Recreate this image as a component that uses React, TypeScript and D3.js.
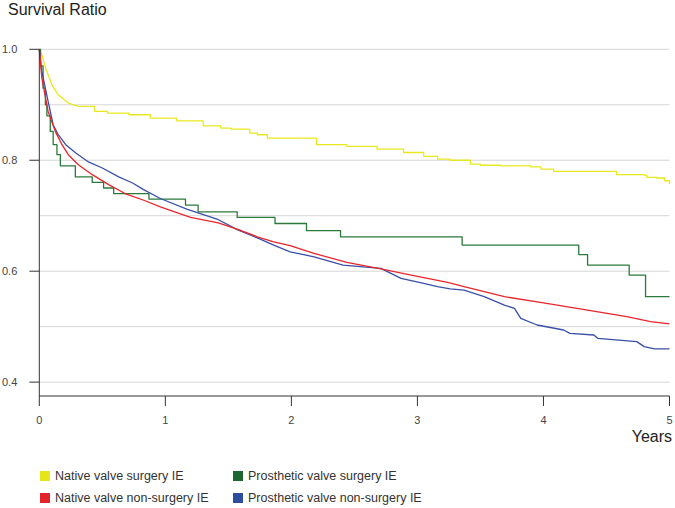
import React from "react";
import * as d3 from "d3";

const W = 675;
const H = 508;

// Native valve surgery IE
const nsT = [0, 0.02, 0.05, 0.10, 0.15, 0.23, 0.31, 0.44, 0.54, 0.71, 0.88, 1.09, 1.30, 1.44, 1.52, 1.67, 1.73, 1.81, 2.05, 2.20, 2.44, 2.68, 2.89, 3.05, 3.16, 3.26, 3.42, 3.50, 3.66, 3.90, 3.98, 4.08, 4.50, 4.58, 4.80, 4.82, 4.90, 4.96, 5.0];
const nsV = [1.0, 0.99, 0.966, 0.936, 0.918, 0.903, 0.897, 0.888, 0.885, 0.882, 0.876, 0.871, 0.862, 0.858, 0.856, 0.849, 0.846, 0.84, 0.84, 0.828, 0.825, 0.82, 0.814, 0.807, 0.802, 0.80, 0.793, 0.791, 0.79, 0.788, 0.784, 0.78, 0.78, 0.774, 0.773, 0.769, 0.768, 0.763, 0.757];

// Native valve non-surgery IE
const nnT = [0, 0.02, 0.07, 0.127, 0.18, 0.23, 0.31, 0.42, 0.55, 0.68, 0.84, 0.96, 1.2, 1.42, 1.58, 1.73, 1.86, 1.99, 2.18, 2.44, 2.71, 2.97, 3.24, 3.37, 3.69, 4.0, 4.35, 4.66, 4.85, 5.0];
const nnV = [1.0, 0.948, 0.888, 0.852, 0.828, 0.81, 0.792, 0.774, 0.756, 0.74, 0.727, 0.716, 0.697, 0.687, 0.675, 0.662, 0.653, 0.646, 0.632, 0.616, 0.604, 0.592, 0.58, 0.572, 0.554, 0.543, 0.53, 0.518, 0.509, 0.505];

// Prosthetic valve surgery IE
const psT = [0, 0.01, 0.03, 0.048, 0.06, 0.087, 0.11, 0.14, 0.167, 0.286, 0.42, 0.51, 0.59, 0.87, 1.16, 1.26, 1.57, 1.87, 2.12, 2.39, 3.355, 4.28, 4.35, 4.68, 4.81, 5.0];
const psV = [1.0, 0.97, 0.93, 0.90, 0.88, 0.852, 0.828, 0.81, 0.79, 0.77, 0.76, 0.75, 0.74, 0.73, 0.719, 0.707, 0.697, 0.686, 0.673, 0.662, 0.647, 0.63, 0.611, 0.593, 0.554, 0.554];

// Prosthetic valve non-surgery IE
const pnT = [0, 0.02, 0.07, 0.11, 0.15, 0.21, 0.29, 0.39, 0.50, 0.63, 0.74, 0.82, 0.96, 1.17, 1.41, 1.57, 1.73, 1.86, 1.99, 2.18, 2.41, 2.71, 2.87, 3.05, 3.16, 3.26, 3.37, 3.53, 3.69, 3.77, 3.82, 3.95, 4.16, 4.21, 4.40, 4.43, 4.74, 4.80, 4.88, 5.0];
const pnV = [1.0, 0.96, 0.906, 0.864, 0.846, 0.828, 0.813, 0.797, 0.786, 0.77, 0.759, 0.748, 0.731, 0.712, 0.694, 0.675, 0.66, 0.647, 0.635, 0.626, 0.611, 0.605, 0.587, 0.578, 0.572, 0.568, 0.566, 0.554, 0.539, 0.533, 0.515, 0.503, 0.494, 0.488, 0.485, 0.479, 0.473, 0.464, 0.46, 0.46];

const xTicks = [0, 1, 2, 3, 4, 5];
const yTickLabels = ["1.0", "0.8", "0.6", "0.4"];
const yTickValues = [1.0, 0.8, 0.6, 0.4];
const gridValues = [1.0, 0.9, 0.8, 0.7, 0.6, 0.5, 0.4];

const seriesNames = [
  "Native valve surgery IE",
  "Prosthetic valve surgery IE",
  "Native valve non-surgery IE",
  "Prosthetic valve non-surgery IE",
];

const FONT = "'Liberation Sans', Arial, Helvetica, sans-serif";

export default function App() {
  const x = d3.scaleLinear().domain([0, 5]).range([39.3, 669.5]);
  const y = d3.scaleLinear().domain([0.375, 1.0]).range([396, 49.3]);

  const mk = (ts: number[], vs: number[]) => ts.map((t, i) => [t, vs[i]] as [number, number]);
  const stepLine = d3
    .line<[number, number]>()
    .x((d) => x(d[0]))
    .y((d) => y(d[1]))
    .curve(d3.curveStepAfter);
  const linLine = d3
    .line<[number, number]>()
    .x((d) => x(d[0]))
    .y((d) => y(d[1]))
    .curve(d3.curveLinear);
  // linear through the dense early drop, stairs afterwards
  const hybrid = (pts: [number, number][], tSplit: number) => {
    const k = pts.findIndex((p) => p[0] >= tSplit);
    return (linLine(pts.slice(0, k + 1)) || "") + (stepLine(pts.slice(k)) || "");
  };

  const series = [
    { name: seriesNames[0], d: hybrid(mk(nsT, nsV), 0.31), color: "#e8e820", sw: "#e5e51a" },
    { name: seriesNames[1], d: stepLine(mk(psT, psV)) || "", color: "#2b7a3b", sw: "#1c6830" },
    { name: seriesNames[2], d: linLine(mk(nnT, nnV)) || "", color: "#e8262b", sw: "#e3232b" },
    { name: seriesNames[3], d: linLine(mk(pnT, pnV)) || "", color: "#3a50a8", sw: "#2e4c9e" },
  ];
  const drawOrder = [0, 1, 3, 2];

  const legendPos = [
    { sx: 40, tx: 55, sy: 471, ty: 480 },
    { sx: 233, tx: 248, sy: 471, ty: 480 },
    { sx: 40, tx: 55, sy: 493, ty: 502 },
    { sx: 233, tx: 248, sy: 493, ty: 502 },
  ];

  const x0 = x(0);
  const x1 = x(5);
  const axisY = y(0.375);

  return (
    <svg
      width={W}
      height={H}
      style={{ position: "absolute", left: 0, top: 0, background: "#fff" }}
      fontFamily={FONT}
    >
      <rect x={0} y={0} width={W} height={H} fill="#fff" />
      <text x={8} y={15} fontSize={16} fill="#222">Survival Ratio</text>

      {gridValues.map((g) => (
        <line key={g} x1={x0} x2={x1} y1={y(g)} y2={y(g)} stroke="#d6d6d6" strokeWidth={1} />
      ))}

      {drawOrder.map((i) => (
        <path key={i} d={series[i].d} fill="none" stroke={series[i].color} strokeWidth={1.3} strokeLinejoin="round" />
      ))}

      <line x1={x0} x2={x0} y1={y(1.0)} y2={axisY} stroke="#333" strokeWidth={1} />
      {yTickValues.map((v, i) => (
        <g key={v}>
          <line x1={x0 - 10} x2={x0} y1={y(v)} y2={y(v)} stroke="#333" strokeWidth={1} />
          <text x={2} y={y(v) + 3.8} fontSize={11} fill="#444">{yTickLabels[i]}</text>
        </g>
      ))}

      <line x1={x0} x2={x1} y1={axisY} y2={axisY} stroke="#333" strokeWidth={1} />
      {xTicks.map((t) => (
        <g key={t}>
          <line x1={x(t)} x2={x(t)} y1={axisY} y2={axisY + 10} stroke="#333" strokeWidth={1} />
          <text x={x(t)} y={axisY + 28} fontSize={11} textAnchor="middle" fill="#444">{t}</text>
        </g>
      ))}
      <text x={672} y={442} fontSize={16} textAnchor="end" fill="#222">Years</text>

      {series.map((s, i) => (
        <g key={s.name}>
          <rect x={legendPos[i].sx} y={legendPos[i].sy} width={10} height={10} fill={s.sw} />
          <text x={legendPos[i].tx} y={legendPos[i].ty} fontSize={12.5} fill="#333">{s.name}</text>
        </g>
      ))}
    </svg>
  );
}
